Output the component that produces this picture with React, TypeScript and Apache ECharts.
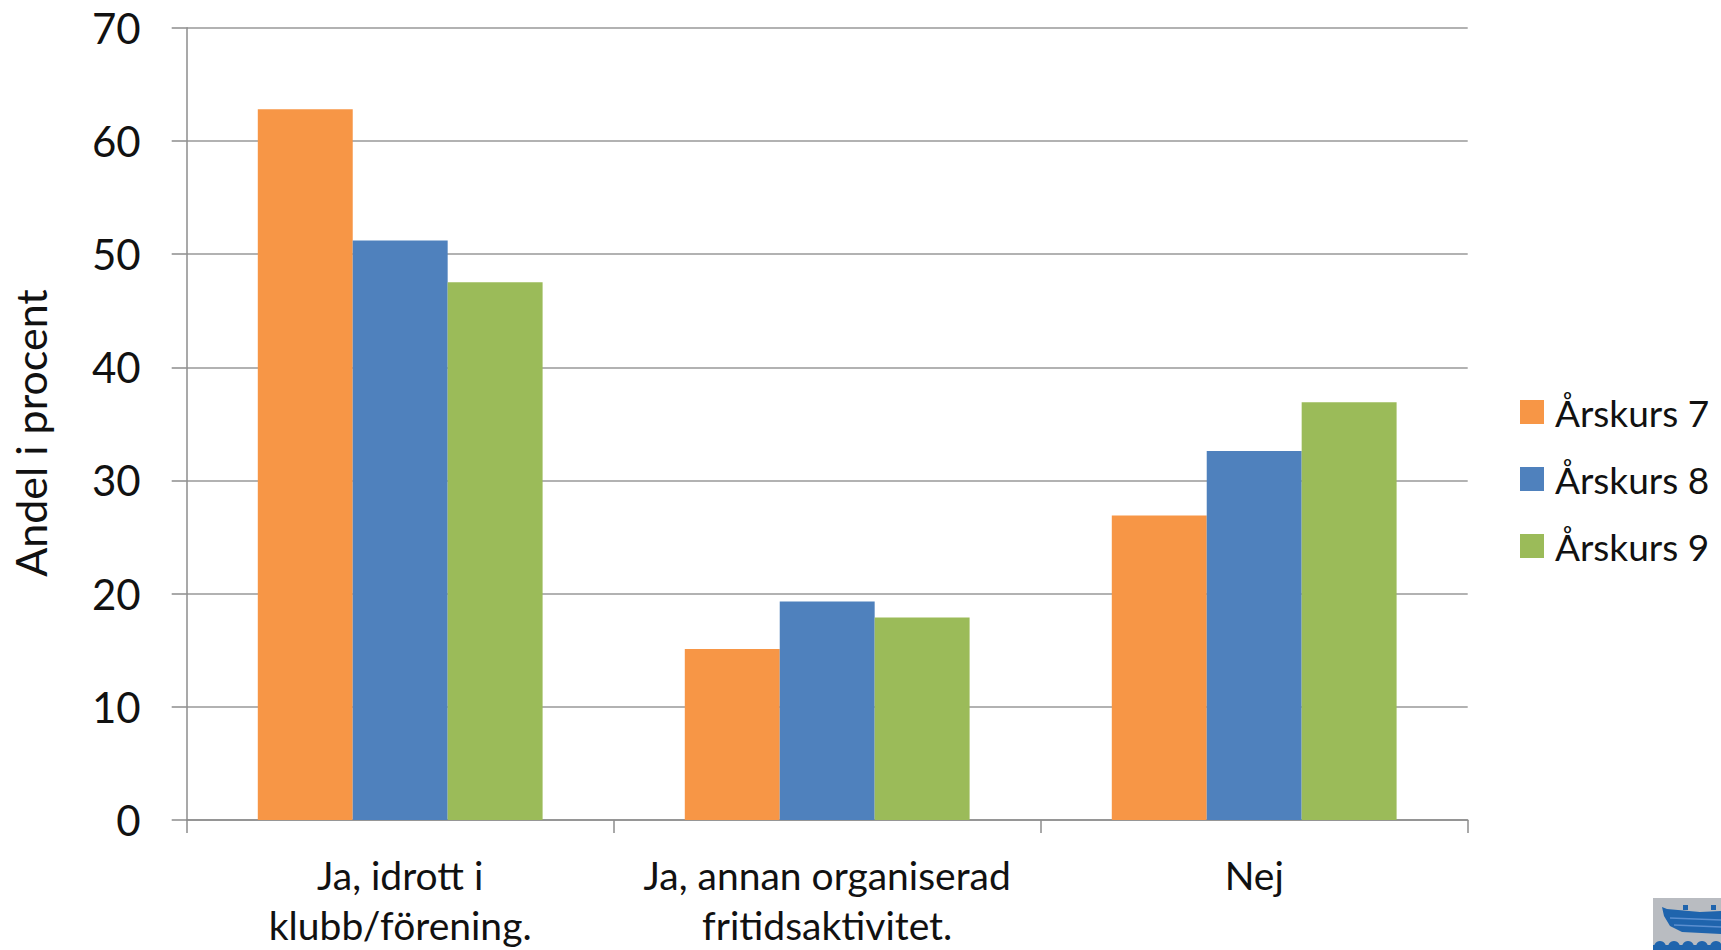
import React, { useEffect, useRef } from "react";
import * as echarts from "echarts";

const categories = ["Ja, idrott i\nklubb/förening.", "Ja, annan organiserad\nfritidsaktivitet.", "Nej"];
const seriesNames = ["Årskurs 7", "Årskurs 8", "Årskurs 9"];
const ak7 = [62.8, 15.1, 26.9];
const ak8 = [51.2, 19.3, 32.6];
const ak9 = [47.5, 17.9, 36.9];
const colors = ["#F79646", "#4F81BD", "#9BBB59"];
const yMin = 0;
const yMax = 70;
const yInterval = 10;
const yTitle = "Andel i procent";

const FONT = "Lato";
const WEIGHT = 400;

export default function App() {
  const ref = useRef<HTMLDivElement>(null);
  useEffect(() => {
    if (!ref.current) return;
    const chart = echarts.init(ref.current, undefined, { renderer: "svg" });
    const values = [ak7, ak8, ak9];
    chart.setOption({
      animation: false,
      backgroundColor: "#ffffff",
      color: colors,
      grid: { left: 186.7, right: 253.3, top: 27.7, bottom: 125.3, containLabel: false },
      legend: {
        orient: "vertical",
        left: 1515,
        top: 388.5,
        itemWidth: 24,
        itemHeight: 24,
        itemGap: 30,
        icon: "rect",
        data: seriesNames,
        textStyle: { fontFamily: FONT, fontWeight: WEIGHT, fontSize: 37, color: "#111", lineHeight: 36, padding: [0, 0, 0, 6] },
      },
      xAxis: {
        type: "category",
        data: categories,
        axisLine: { show: true, lineStyle: { color: "#8c8c8c", width: 1.5 } },
        axisTick: { show: true, length: 13, lineStyle: { color: "#8c8c8c", width: 1.5 } },
        axisLabel: {
          fontFamily: FONT,
          fontWeight: WEIGHT,
          fontSize: 39,
          color: "#111",
          lineHeight: 50,
          margin: 30,
          interval: 0,
        },
      },
      yAxis: {
        type: "value",
        min: yMin,
        max: yMax,
        interval: yInterval,
        axisLine: { show: true, lineStyle: { color: "#8c8c8c", width: 1.5 } },
        axisTick: { show: true, length: 15, lineStyle: { color: "#8c8c8c", width: 1.5 } },
        splitLine: { show: true, lineStyle: { color: "#999999", width: 1.5 } },
        axisLabel: { fontFamily: FONT, fontWeight: WEIGHT, fontSize: 42, color: "#111", margin: 46 },
      },
      series: seriesNames.map((name, i) => ({
        name,
        type: "bar",
        data: values[i],
        barGap: "0%",
        barCategoryGap: "33.3%",
        itemStyle: { color: colors[i] },
      })),
      graphic: [
        {
          type: "text",
          x: 30,
          y: 433,
          rotation: Math.PI / 2,
          style: {
            text: yTitle,
            fontFamily: FONT,
            fontWeight: WEIGHT,
            fontSize: 43,
            fill: "#111",
            textAlign: "center",
            textVerticalAlign: "middle",
          },
        },
        {
          type: "group",
          children: [
            { type: "rect", shape: { x: 1653, y: 898, width: 68, height: 52 }, style: { fill: "#b9bcc1" } },
            {
              type: "polygon",
              shape: {
                points: [
                  [1662, 907], [1667, 909], [1700, 912], [1721, 911], [1721, 934], [1682, 932], [1670, 926], [1664, 916],
                ],
              },
              style: { fill: "#1f64ad" },
            },
            { type: "rect", shape: { x: 1683, y: 905, width: 5, height: 5 }, style: { fill: "#1f64ad" } },
            { type: "rect", shape: { x: 1711, y: 905, width: 5, height: 5 }, style: { fill: "#1f64ad" } },
            { type: "line", shape: { x1: 1670, y1: 918, x2: 1721, y2: 920 }, style: { stroke: "#5b8fd0", lineWidth: 1.5 } },
            { type: "line", shape: { x1: 1674, y1: 925, x2: 1721, y2: 927 }, style: { stroke: "#5b8fd0", lineWidth: 1.5 } },
            { type: "rect", shape: { x: 1653, y: 945, width: 68, height: 5 }, style: { fill: "#1f64ad" } },
            { type: "circle", shape: { cx: 1660, cy: 947, r: 6 }, style: { fill: "#1f64ad" } },
            { type: "circle", shape: { cx: 1674, cy: 947, r: 6 }, style: { fill: "#1f64ad" } },
            { type: "circle", shape: { cx: 1688, cy: 947, r: 6 }, style: { fill: "#1f64ad" } },
            { type: "circle", shape: { cx: 1702, cy: 947, r: 6 }, style: { fill: "#1f64ad" } },
            { type: "circle", shape: { cx: 1716, cy: 947, r: 6 }, style: { fill: "#1f64ad" } },
          ],
        },
      ],
    });
    return () => chart.dispose();
  }, []);
  return <div ref={ref} style={{ position: "fixed", left: 0, top: 0, width: 1721, height: 950 }} />;
}
